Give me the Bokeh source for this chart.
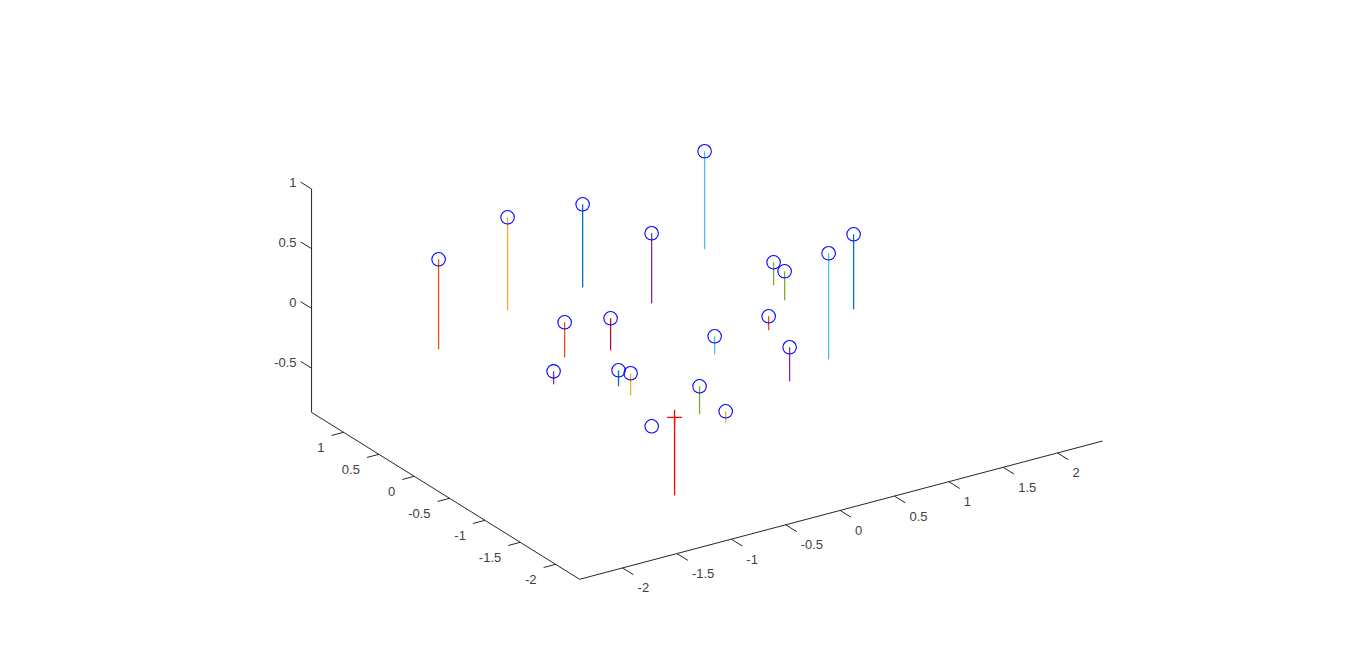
from bokeh.plotting import figure
from bokeh.models import Range1d, ColumnDataSource
from bokeh.core.properties import value
from bokeh.embed import file_html
from bokeh.resources import INLINE

# Limits of the 3-D box
x_lim = (-2.395, 2.414)
y_lim = (-2.34, 1.453)
z_lim = (-0.87, 1.0)

x_ticks = [-2, -1.5, -1, -0.5, 0, 0.5, 1, 1.5, 2]
y_ticks = [-2, -1.5, -1, -0.5, 0, 0.5, 1]
z_ticks = [-0.5, 0, 0.5, 1]
x_labels = ["-2", "-1.5", "-1", "-0.5", "0", "0.5", "1", "1.5", "2"]
y_labels = ["-2", "-1.5", "-1", "-0.5", "0", "0.5", "1"]
z_labels = ["-0.5", "0", "0.5", "1"]

# Samples (blue circles) and the lower end of each stem
sx = [-1.809, -1.176, -0.619, -0.288, 0.557, -1.277, -0.939, -1.423, -1.055, -0.946,
      -1.050, -0.574, -0.417, -0.330, 0.226, 0.288, 0.446, 0.424, 0.771, 1.005]
sy = [0.557, 0.555, 0.350, -0.117, 0.434, -0.408, -0.538, -0.476, -0.829, -0.832,
      -1.290, -1.235, -1.363, -1.073, -0.982, -1.183, -0.713, -0.903, -0.992, -0.985]
sz = [0.60, 0.80, 0.85, 0.70, 0.98, 0.30, 0.30, -0.05, 0.00, -0.05,
      -0.30, -0.10, -0.30, 0.20, 0.20, 0.00, 0.50, 0.50, 0.60, 0.70]
sz_low = [-0.153, 0.022, 0.155, 0.114, 0.160, 0.007, 0.032, -0.159, -0.134, -0.234,
          -0.30, -0.334, -0.392, 0.049, 0.083, -0.285, 0.308, 0.257, -0.287, 0.072]
stem_colors = ["#D95319", "#EDB120", "#0072BD", "#7E2F8E", "#4DBEEE", "#D95319", "#A2142F",
               "#7E2F8E", "#0072BD", "#EDB120", "#77AC30", "#77AC30", "#EDB120", "#4DBEEE",
               "#D95319", "#7E2F8E", "#77AC30", "#77AC30", "#4DBEEE", "#0072BD"]

# Query point (red cross)
qx, qy, qz, qz_low = -0.933, -1.434, -0.2, -0.853

AXIS = "#262626"
TEXT = "#404040"


def px(x, y):
    return 674.09 + 108.75 * x - 70.67 * y


def py(x, y, z):
    return 303.2 - 28.75 * x - 44.0 * y - 119.5 * z


p = figure(width=1350, height=635, output_backend="svg", toolbar_location=None,
           x_range=Range1d(-0.1, 1349.9), y_range=Range1d(635.2, 0.2),
           min_border=0, outline_line_color=None, background_fill_color="white",
           border_fill_color="white")
p.axis.visible = False
p.grid.visible = False

# Box edges
x0, x1 = x_lim
y0, y1 = y_lim
z0, z1 = z_lim
edges = [((x0, y0, z0), (x1, y0, z0)), ((x0, y0, z0), (x0, y1, z0)), ((x0, y1, z0), (x0, y1, z1))]
p.multi_line(xs=[[px(a[0], a[1]), px(b[0], b[1])] for a, b in edges],
             ys=[[py(*a), py(*b)] for a, b in edges], line_color=AXIS, line_width=1)

# Ticks
segs = [((t, y0, z0), (t, y0 - 0.155, z0)) for t in x_ticks]
segs += [((x0, t, z0), (x0 - 0.11, t, z0)) for t in y_ticks]
segs += [((x0, y1, t), (x0, y1 + 0.155, t)) for t in z_ticks]
p.multi_line(xs=[[px(a[0], a[1]), px(b[0], b[1])] for a, b in segs],
             ys=[[py(*a), py(*b)] for a, b in segs], line_color=AXIS, line_width=1)

# Tick labels
common = dict(text_font=value("Liberation Sans"), text_font_size="13px", text_color=TEXT,
              text_baseline="middle")
p.text(x=[px(t, y0) for t in x_ticks], y=[py(t, y0, z0) for t in x_ticks], text=x_labels,
       x_offset=15, y_offset=20, text_align="left", **common)
p.text(x=[px(x0, t) for t in y_ticks], y=[py(x0, t, z0) for t in y_ticks], text=y_labels,
       x_offset=-19, y_offset=15, text_align="right", **common)
p.text(x=[px(x0, y1) for t in z_ticks], y=[py(x0, y1, t) for t in z_ticks], text=z_labels,
       x_offset=-15, y_offset=-6, text_align="right", **common)

# Stems
stems = ColumnDataSource(dict(
    xs=[[px(a, b), px(a, b)] for a, b in zip(sx, sy)],
    ys=[[py(a, b, c), py(a, b, d)] for a, b, c, d in zip(sx, sy, sz, sz_low)],
    color=stem_colors))
p.multi_line(xs="xs", ys="ys", line_color="color", line_width=1.3, source=stems)

p.line(x=[px(qx, qy), px(qx, qy)], y=[py(qx, qy, qz), py(qx, qy, qz_low)],
       line_color="#FF0000", line_width=1.3)
p.scatter(x=[px(qx, qy)], y=[py(qx, qy, qz)], marker="cross", size=15,
          line_color="#FF0000", line_width=1.3, fill_color=None)

# Sample markers
p.scatter(x=[px(a, b) for a, b in zip(sx, sy)],
          y=[py(a, b, c) for a, b, c in zip(sx, sy, sz)],
          marker="circle", size=13.5, line_color="#0000FF", line_width=1.1, fill_color=None)

open("out.html", "w").write(file_html(p, INLINE))
